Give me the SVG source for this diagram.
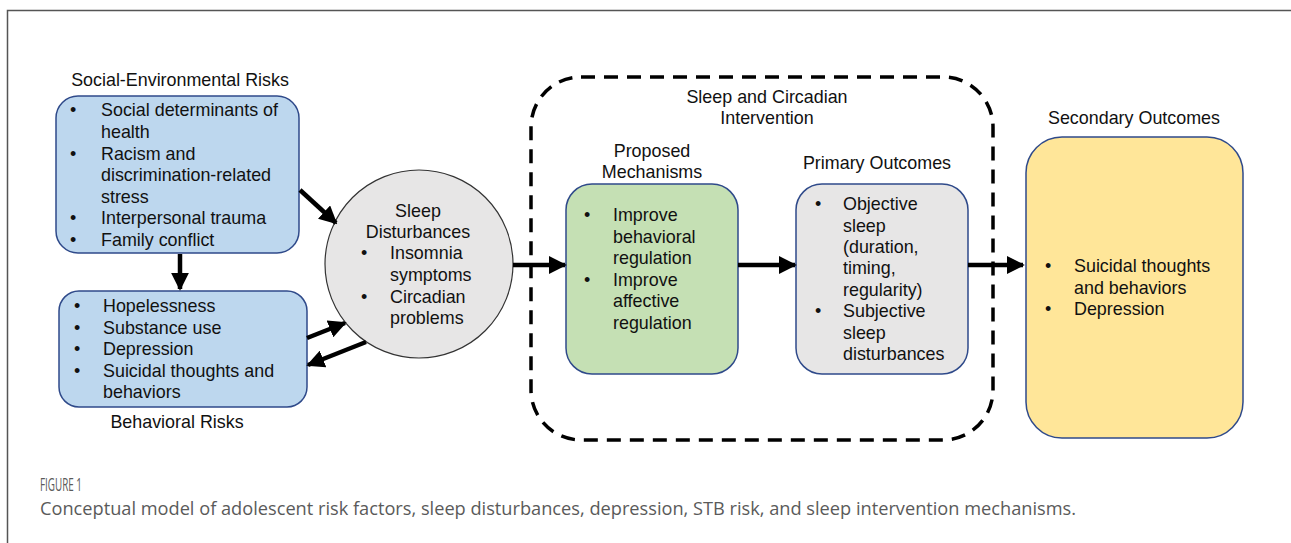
<svg xmlns="http://www.w3.org/2000/svg" width="1291" height="543" viewBox="0 0 1291 543">
<defs>
<style>
text{font-family:"Liberation Sans",Arial,sans-serif;font-size:17.9px;fill:#111}
.c{text-anchor:middle}
.box{stroke:#2f4a8a;stroke-width:1.5}
.conn{stroke:#000;stroke-width:4.5;fill:none}
.cap{font-family:"Open Sans","Liberation Sans",sans-serif;fill:#5a5a5a}
</style>
<marker id="ah" viewBox="0 0 10 10" refX="9" refY="5" markerWidth="4" markerHeight="4" markerUnits="strokeWidth" orient="auto">
<path d="M0,0 L10,5 L0,10 z" fill="#000"/>
</marker>
</defs>
<rect width="1291" height="543" fill="#fff"/>
<path d="M7.5,543 V10.5 H1291" fill="none" stroke="#555" stroke-width="1.5"/>

<g id="intervention">
<rect x="531" y="77" width="462" height="363" rx="50" fill="none" stroke="#000" stroke-width="3.5" stroke-dasharray="14 9"/>
<text class="c" x="767" y="103">Sleep and Circadian</text>
<text class="c" x="767" y="124">Intervention</text>
</g>

<g id="social">
<text class="c" x="180" y="86">Social-Environmental Risks</text>
<rect class="box" x="56" y="96" width="243" height="157" rx="22" fill="#bdd7ee"/>
<text x="70" y="116">•</text><text x="101" y="116">Social determinants of</text>
<text x="101" y="138">health</text>
<text x="70" y="160">•</text><text x="101" y="160">Racism and</text>
<text x="101" y="181">discrimination-related</text>
<text x="101" y="203">stress</text>
<text x="70" y="224">•</text><text x="101" y="224">Interpersonal trauma</text>
<text x="70" y="246">•</text><text x="101" y="246">Family conflict</text>
</g>

<g id="behavioral">
<rect class="box" x="59" y="291" width="248" height="116" rx="20" fill="#bdd7ee"/>
<text x="74" y="312">•</text><text x="103" y="312">Hopelessness</text>
<text x="74" y="334">•</text><text x="103" y="334">Substance use</text>
<text x="74" y="355">•</text><text x="103" y="355">Depression</text>
<text x="74" y="377">•</text><text x="103" y="377">Suicidal thoughts and</text>
<text x="103" y="398">behaviors</text>
<text class="c" x="177" y="428">Behavioral Risks</text>
</g>

<g id="sleep">
<circle cx="419" cy="264" r="94" fill="#e7e6e6" stroke="#333" stroke-width="1.2"/>
<text class="c" x="418" y="217">Sleep</text>
<text class="c" x="418" y="238">Disturbances</text>
<text x="361" y="259">•</text><text x="390" y="259">Insomnia</text>
<text x="390" y="281">symptoms</text>
<text x="361" y="303">•</text><text x="390" y="303">Circadian</text>
<text x="390" y="324">problems</text>
</g>

<g id="mechanisms">
<text class="c" x="652" y="157">Proposed</text>
<text class="c" x="652" y="178">Mechanisms</text>
<rect class="box" x="566" y="184" width="172" height="190" rx="26" fill="#c5e0b4"/>
<text x="584" y="221">•</text><text x="613" y="221">Improve</text>
<text x="613" y="243">behavioral</text>
<text x="613" y="264">regulation</text>
<text x="584" y="286">•</text><text x="613" y="286">Improve</text>
<text x="613" y="307">affective</text>
<text x="613" y="329">regulation</text>
</g>

<g id="primary">
<text class="c" x="877" y="169">Primary Outcomes</text>
<rect class="box" x="796" y="184" width="172" height="190" rx="26" fill="#e7e6e6"/>
<text x="815" y="210">•</text><text x="843" y="210">Objective</text>
<text x="843" y="232">sleep</text>
<text x="843" y="253">(duration,</text>
<text x="843" y="274">timing,</text>
<text x="843" y="296">regularity)</text>
<text x="815" y="317">•</text><text x="843" y="317">Subjective</text>
<text x="843" y="339">sleep</text>
<text x="843" y="360">disturbances</text>
</g>

<g id="secondary">
<text class="c" x="1134" y="124">Secondary Outcomes</text>
<rect class="box" x="1026" y="137" width="217" height="301" rx="36" fill="#ffe699"/>
<text x="1045" y="272">•</text><text x="1074" y="272">Suicidal thoughts</text>
<text x="1074" y="294">and behaviors</text>
<text x="1045" y="315">•</text><text x="1074" y="315">Depression</text>
</g>

<g id="connectors">
<line class="conn" x1="180" y1="254" x2="180" y2="289" marker-end="url(#ah)"/>
<line class="conn" x1="300" y1="190" x2="336" y2="223" marker-end="url(#ah)"/>
<line class="conn" x1="307" y1="338" x2="345" y2="323" marker-end="url(#ah)"/>
<line class="conn" x1="366" y1="342" x2="308" y2="365" marker-end="url(#ah)"/>
<line class="conn" x1="513" y1="265" x2="565" y2="265" marker-end="url(#ah)"/>
<line class="conn" x1="738" y1="265" x2="795" y2="265" marker-end="url(#ah)"/>
<line class="conn" x1="968" y1="265" x2="1023" y2="265" marker-end="url(#ah)"/>
</g>

<g id="caption">
<text class="cap" x="40" y="491" font-size="12" textLength="42" lengthAdjust="spacingAndGlyphs">FIGURE 1</text>
<text class="cap" x="40" y="515" font-size="18" textLength="1036" lengthAdjust="spacingAndGlyphs">Conceptual model of adolescent risk factors, sleep disturbances, depression, STB risk, and sleep intervention mechanisms.</text>
</g>
</svg>
